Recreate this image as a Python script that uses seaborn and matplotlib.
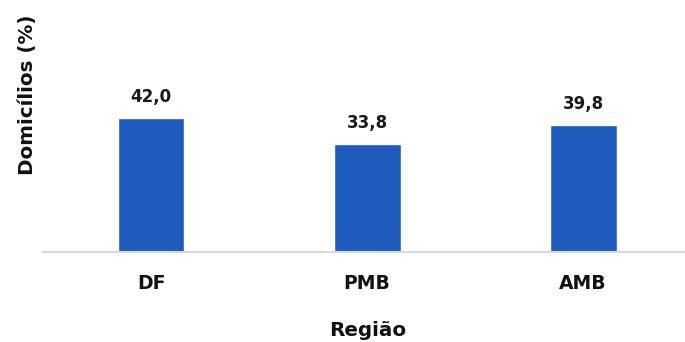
import matplotlib
matplotlib.use("Agg")
import matplotlib.pyplot as plt
import seaborn as sns
import pandas as pd

regioes = ["DF", "PMB", "AMB"]
domicilios = [42.0, 33.8, 39.8]
rotulos = ["42,0", "33,8", "39,8"]

sns.set_theme(style="white")
plt.rcParams["font.family"] = ["DejaVu Sans"]

df = pd.DataFrame({"Região": regioes, "Domicílios": domicilios})

W, H = 685, 342
fig = plt.figure(figsize=(W / 100, H / 100), dpi=100)
ax = fig.add_axes([43 / W, 1 - 252 / H, 1 - 43 / W, 252 / H])

sns.barplot(data=df, x="Região", y="Domicílios", color="#1f5bbd",
            width=0.31, saturation=1, ax=ax)

# value labels above each bar
for i, (v, t) in enumerate(zip(domicilios, rotulos)):
    ax.annotate(t, (i, v), xytext=(0, 11.5), textcoords="offset points",
                ha="center", va="baseline", fontsize=12, fontweight="bold",
                color="#1a1a1a")

ax.set_xlim(-0.5, 2.472)
ax.set_ylim(0, 79)
ax.set_yticks([])
ax.set_xlabel("")
ax.set_ylabel("")
for s in ["top", "right", "left"]:
    ax.spines[s].set_visible(False)
ax.spines["bottom"].set_color("#d9d9d9")
ax.spines["bottom"].set_linewidth(1.5)
ax.tick_params(axis="x", length=0, pad=16, labelsize=13.5, colors="#111111")
for lab in ax.get_xticklabels():
    lab.set_fontweight("bold")

fig.text(33 / W, 1 - 95 / H, "Domicílios (%)", rotation=90,
         rotation_mode="anchor", ha="center", va="baseline",
         fontsize=14.3, fontweight="bold", color="#111111")
fig.text(368 / W, 1 - 336 / H, "Região", ha="center", va="baseline",
         fontsize=14.3, fontweight="bold", color="#111111")

fig.savefig("out.png", dpi=100, facecolor="white")
